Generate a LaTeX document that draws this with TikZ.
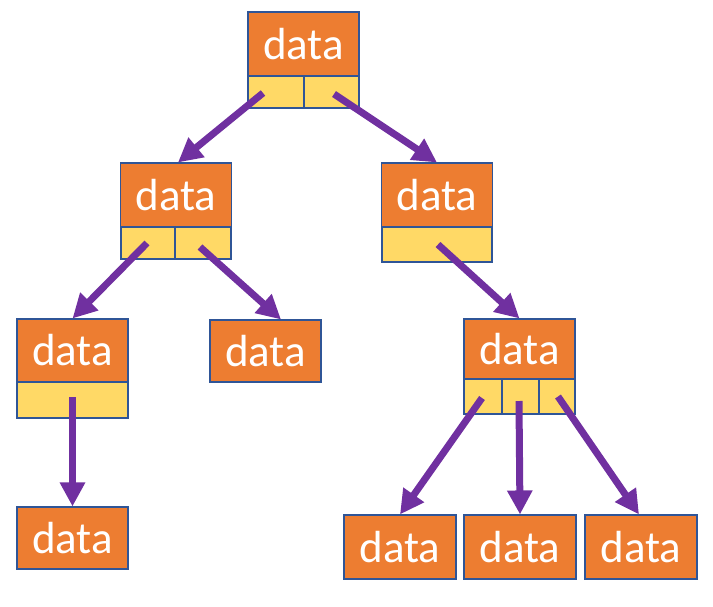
\documentclass[tikz,border=0pt]{standalone}
\usepackage{fontspec}
\setmainfont{Carlito}
\usetikzlibrary{arrows.meta}
\definecolor{dorange}{HTML}{ED7D31}
\definecolor{dyellow}{HTML}{FFD966}
\definecolor{dborder}{HTML}{2F5597}
\definecolor{dpurple}{HTML}{7030A0}
\begin{document}
\begin{tikzpicture}[x=1pt,y=-1pt,
  databox/.style={draw=dborder, line width=1.1pt, fill=dorange, minimum width=111pt, minimum height=63pt, inner sep=0pt, text=white, font=\fontsize{45}{45}\selectfont},
  cell/.style={draw=dborder, line width=1.1pt, fill=dyellow, inner sep=0pt, minimum height=32pt},
  link/.style={draw=dpurple, line width=7pt, -{Triangle[length=24pt,width=24pt]}}]
\useasboundingbox (0,0) rectangle (713,606);
% root
\node[databox, minimum height=64pt] (root) at (303.5,44) {data};
\node[cell, minimum width=56pt] (rootA) at (276,92) {};
\node[cell, minimum width=55pt] (rootB) at (331.5,92) {};
% left
\node[databox, minimum height=64pt] (L) at (176,195) {data};
\node[cell, minimum width=54pt] (LA) at (148,243) {};
\node[cell, minimum width=56pt] (LB) at (203,243) {};
% right
\node[databox, minimum height=64pt] (R) at (437,195) {data};
\node[cell, minimum width=110pt, minimum height=35pt] (RA) at (437,244.5) {};
% left-left
\node[databox] (LL) at (72.5,350.5) {data};
\node[cell, minimum width=111pt, minimum height=36pt] (LLA) at (72.5,400) {};
% left-right
\node[databox, minimum height=62pt] (LR) at (265.5,351) {data};
% right child
\node[databox, minimum height=60pt] (RC) at (519.5,349) {data};
\node[cell, minimum width=38pt, minimum height=35pt] (RCA) at (483,396.5) {};
\node[cell, minimum width=37pt, minimum height=35pt] (RCB) at (520.5,396.5) {};
\node[cell, minimum width=36pt, minimum height=35pt] (RCC) at (557,396.5) {};
% leaves
\node[databox, minimum height=62pt] (LLL) at (72.5,538) {data};
\node[databox, minimum width=112pt, minimum height=64pt] (B1) at (400,547) {data};
\node[databox, minimum width=112pt, minimum height=64pt] (B2) at (520,547) {data};
\node[databox, minimum width=112pt, minimum height=64pt] (B3) at (641,547) {data};
% links
\draw[link] ([xshift=-13pt,yshift=-1pt]rootA.center) -- ([xshift=2pt]L.north);
\draw[link] ([xshift=2.5pt,yshift=-2pt]rootB.center) -- (R.north);
\draw[link] ([xshift=-1pt]LA.center) -- (LL.north);
\draw[link] ([xshift=-3pt,yshift=-4pt]LB.center) -- ([xshift=15.5pt]LR.north);
\draw[link] ([xshift=1pt]RA.center) -- (RC.north);
\draw[link] ([yshift=3pt]LLA.center) -- (LLL.north);
\draw[link] ([xshift=-1pt,yshift=-1.5pt]RCA.center) -- (B1.north);
\draw[link] ([xshift=-1.5pt,yshift=-4.5pt]RCB.center) -- (B2.north);
\draw[link] ([xshift=1pt]RCC.center) -- ([xshift=-2pt]B3.north);
\end{tikzpicture}
\end{document}
